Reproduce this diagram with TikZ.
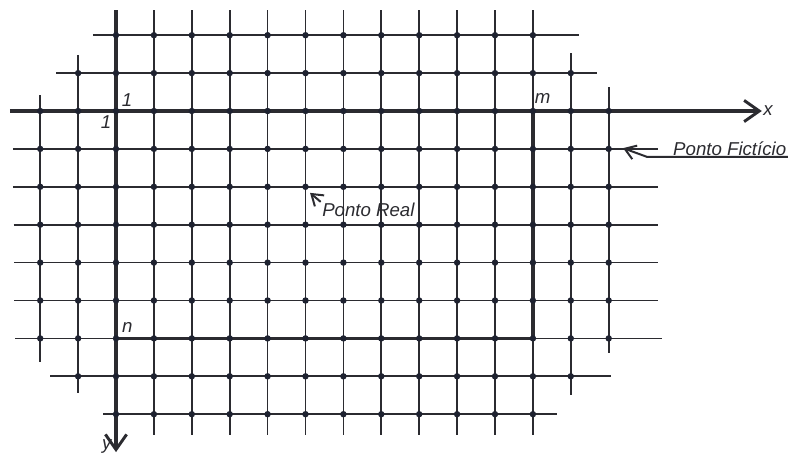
\documentclass[tikz,border=0pt]{standalone}
\usepackage{fontspec}
\setmainfont{Liberation Sans}
\usetikzlibrary{arrows.meta,calc}
\definecolor{gridC}{HTML}{2B2B30}
\definecolor{dotC}{HTML}{1E2230}
\tikzset{
  gline/.style={draw=gridC, line width=1.3pt},
  bold/.style={draw=gridC, line width=2.8pt},
  axis/.style={bold, -{Straight Barb[length=4mm,width=5.6mm,line width=2.2pt]}},
  pt/.style={fill=dotC},
  lab/.style={font=\fontsize{14}{16}\selectfont\itshape, text=gridC, inner sep=1pt},
  lead/.style={draw=gridC, line width=1.5pt, -{Straight Barb[length=2.8mm,width=3.8mm]}},
}

\begin{document}
\begin{tikzpicture}
\useasboundingbox (-3.061,2.929) rectangle (17.863,-9.050);
% rows: y / left end / right end
\foreach \y/\xl/\xr in {2/-0.61/12.22, 1/-1.58/12.69,
    -1/-2.72/14.30, -2/-2.72/14.30, -3/-2.70/14.30,
    -4/-2.68/14.30, -5/-2.68/14.30, -6/-2.66/14.40,
    -7/-1.74/13.06, -8/-0.34/11.64}
  \draw[gline] (\xl,\y) -- (\xr,\y);
% columns: x / top end / bottom end
\foreach \x/\yt/\yb in {-2/0.42/-6.62, -1/1.48/-7.44, 1/2.66/-8.55, 2/2.66/-8.55,
    3/2.66/-8.55, 4/2.66/-8.55, 5/2.66/-8.55, 6/2.66/-8.55, 7/2.66/-8.55,
    8/2.66/-8.55, 9/2.66/-8.55, 10/2.66/-8.55, 11/2.66/-8.55,
    12/1.53/-7.49, 13/0.63/-6.39}
  \draw[gline] (\x,\yt) -- (\x,\yb);

% real domain and axes
\coordinate (xstart) at (-2.80,0);
\coordinate (xend) at (17.04,0);
\coordinate (ystart) at (0,2.66);
\coordinate (yend) at (0,-9.0);
\draw[bold] (11,0) -- (11,-6) -- (0,-6);
\draw[axis] (xstart) -- (xend);
\draw[axis] (ystart) -- (yend);

% points
\foreach \y/\ia/\ib in {2/0/11, 1/-1/12, 0/-2/13, -1/-2/13, -2/-2/13, -3/-2/13,
    -4/-2/13, -5/-2/13, -6/-2/13, -7/-1/12, -8/0/11}
  \foreach \x in {\ia,...,\ib}
    \fill[pt] (\x,\y) circle (0.085);

% labels
\node[lab, anchor=west] (xl) at (xend) {x};
\node[lab, anchor=east] (yl) at ($(yend)+(-0.08,0.16)$) {y};
\node[lab] (one1) at (0.29,0.29) {1};
\node[lab] (one2) at (-0.26,-0.29) {1};
\node[lab] (ml) at (11.26,0.32) {m};
\node[lab] (nl) at (0.30,-5.70) {n};

\node[lab, anchor=west] (pr) at (5.40,-2.62) {Ponto Real};
\coordinate (rtip) at (5.12,-2.16);
\draw[lead] (pr.north west) -- (rtip);

\node[lab, anchor=south west] (pf) at (14.66,-1.21) {Ponto Fictício};
\coordinate (bend) at (14.01,-1.21);
\coordinate (ftip) at (13.38,-0.98);
\draw[lead] (pf.south east) -- (bend) -- (ftip);
\end{tikzpicture}
\end{document}
